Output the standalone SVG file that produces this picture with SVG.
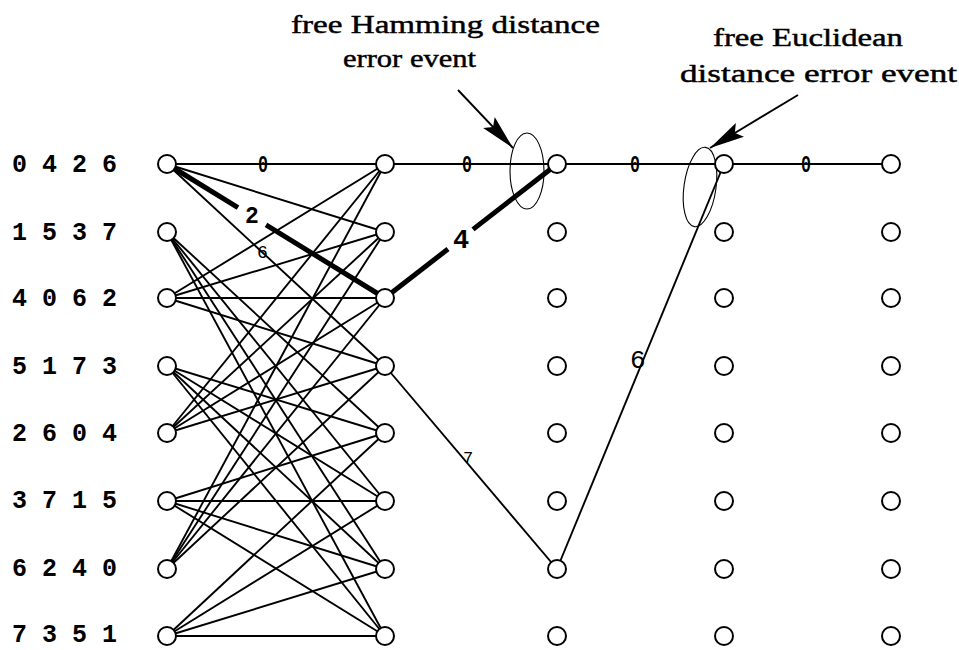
<svg xmlns="http://www.w3.org/2000/svg" width="959" height="650" viewBox="0 0 959 650">
<defs>
<style>
.n{fill:#fff;stroke:#000;stroke-width:2}
.e{stroke:#000;stroke-width:1.9;fill:none}
.t{stroke:#000;stroke-width:5;fill:none;stroke-linecap:butt}
.el{stroke:#000;stroke-width:1.1;fill:none}
.lab{font-family:"Liberation Mono",monospace;font-weight:bold;font-size:25px;fill:#000}
.ed{font-family:"Liberation Mono",monospace;fill:#000}
.z{font-family:"Liberation Mono",monospace;font-size:24px;font-weight:bold;fill:#000}
.cap{font-family:"Liberation Serif","Times New Roman",serif;font-size:26px;fill:#000;stroke:#000;stroke-width:0.45}
</style>
<marker id="ah" markerUnits="userSpaceOnUse" markerWidth="36" markerHeight="16" refX="35" refY="8" orient="auto">
<path d="M0,0 L35,8 L0,16 L6,8 z" fill="#000"/>
</marker>
</defs>
<rect width="959" height="650" fill="#fff"/>

<g id="state-labels">
<text class="lab" x="12" y="172">0 4 2 6</text>
<text class="lab" x="12" y="240">1 5 3 7</text>
<text class="lab" x="12" y="306">4 0 6 2</text>
<text class="lab" x="12" y="374">5 1 7 3</text>
<text class="lab" x="12" y="441">2 6 0 4</text>
<text class="lab" x="12" y="508">3 7 1 5</text>
<text class="lab" x="12" y="576">6 2 4 0</text>
<text class="lab" x="12" y="642">7 3 5 1</text>
</g>

<g id="connectors">
<line class="e" x1="167" y1="164" x2="891" y2="164"/>
<line class="e" x1="167" y1="164" x2="385" y2="232"/>
<line class="e" x1="167" y1="164" x2="385" y2="366"/>
<line class="e" x1="167" y1="298" x2="385" y2="164"/>
<line class="e" x1="167" y1="298" x2="385" y2="232"/>
<line class="e" x1="167" y1="298" x2="385" y2="298"/>
<line class="e" x1="167" y1="298" x2="385" y2="366"/>
<line class="e" x1="167" y1="433" x2="385" y2="164"/>
<line class="e" x1="167" y1="433" x2="385" y2="232"/>
<line class="e" x1="167" y1="433" x2="385" y2="298"/>
<line class="e" x1="167" y1="433" x2="385" y2="366"/>
<line class="e" x1="167" y1="569" x2="385" y2="164"/>
<line class="e" x1="167" y1="569" x2="385" y2="232"/>
<line class="e" x1="167" y1="569" x2="385" y2="298"/>
<line class="e" x1="167" y1="569" x2="385" y2="366"/>
<line class="e" x1="167" y1="232" x2="385" y2="433"/>
<line class="e" x1="167" y1="232" x2="385" y2="501"/>
<line class="e" x1="167" y1="232" x2="385" y2="569"/>
<line class="e" x1="167" y1="232" x2="385" y2="636"/>
<line class="e" x1="167" y1="366" x2="385" y2="433"/>
<line class="e" x1="167" y1="366" x2="385" y2="501"/>
<line class="e" x1="167" y1="366" x2="385" y2="569"/>
<line class="e" x1="167" y1="366" x2="385" y2="636"/>
<line class="e" x1="167" y1="501" x2="385" y2="433"/>
<line class="e" x1="167" y1="501" x2="385" y2="501"/>
<line class="e" x1="167" y1="501" x2="385" y2="569"/>
<line class="e" x1="167" y1="501" x2="385" y2="636"/>
<line class="e" x1="167" y1="636" x2="385" y2="433"/>
<line class="e" x1="167" y1="636" x2="385" y2="501"/>
<line class="e" x1="167" y1="636" x2="385" y2="569"/>
<line class="e" x1="167" y1="636" x2="385" y2="636"/>
<line class="t" x1="172" y1="167" x2="238" y2="207.6"/>
<line class="t" x1="266" y1="224.9" x2="380" y2="295"/>
<line class="t" x1="390" y1="294" x2="448" y2="249"/>
<line class="t" x1="473" y1="229.4" x2="552" y2="168"/>
<line class="e" x1="385" y1="366" x2="557" y2="569"/>
<line class="e" x1="557" y1="569" x2="724" y2="164"/>
<ellipse class="el" cx="527" cy="171" rx="17" ry="38"/>
<ellipse class="el" cx="700" cy="187" rx="16" ry="40" transform="rotate(8 700 187)"/>
<line x1="458" y1="90" x2="513" y2="148" stroke="#000" stroke-width="1.9" marker-end="url(#ah)"/>
<line x1="798" y1="95" x2="710" y2="148" stroke="#000" stroke-width="1.9" marker-end="url(#ah)"/>
</g>

<g id="edge-labels">
<text class="z" x="258" y="172" textLength="10" lengthAdjust="spacingAndGlyphs">0</text>
<text class="z" x="462" y="172" textLength="10" lengthAdjust="spacingAndGlyphs">0</text>
<text class="z" x="630" y="172" textLength="10" lengthAdjust="spacingAndGlyphs">0</text>
<text class="z" x="801" y="172" textLength="10" lengthAdjust="spacingAndGlyphs">0</text>
<text class="ed" x="245" y="223" font-size="23" font-weight="bold">2</text>
<text class="ed" x="257" y="258" font-size="18">6</text>
<text class="ed" x="453" y="248" font-size="27" font-weight="bold">4</text>
<text class="ed" x="463" y="463" font-size="17">7</text>
<text class="ed" x="630" y="368" font-size="26">6</text>
</g>

<g id="captions">
<text class="cap" x="291" y="33" textLength="309" lengthAdjust="spacingAndGlyphs">free Hamming  distance</text>
<text class="cap" x="343" y="67" textLength="133" lengthAdjust="spacingAndGlyphs">error event</text>
<text class="cap" x="713" y="46" textLength="190" lengthAdjust="spacingAndGlyphs">free Euclidean</text>
<text class="cap" x="680" y="82" textLength="277" lengthAdjust="spacingAndGlyphs">distance error event</text>
</g>

<g id="nodes">
<g id="n1-0"><circle class="n" cx="167" cy="164" r="9"/></g>
<g id="n1-1"><circle class="n" cx="167" cy="232" r="9"/></g>
<g id="n1-2"><circle class="n" cx="167" cy="298" r="9"/></g>
<g id="n1-3"><circle class="n" cx="167" cy="366" r="9"/></g>
<g id="n1-4"><circle class="n" cx="167" cy="433" r="9"/></g>
<g id="n1-5"><circle class="n" cx="167" cy="501" r="9"/></g>
<g id="n1-6"><circle class="n" cx="167" cy="569" r="9"/></g>
<g id="n1-7"><circle class="n" cx="167" cy="636" r="9"/></g>
<g id="n2-0"><circle class="n" cx="385" cy="164" r="9"/></g>
<g id="n2-1"><circle class="n" cx="385" cy="232" r="9"/></g>
<g id="n2-2"><circle class="n" cx="385" cy="298" r="9"/></g>
<g id="n2-3"><circle class="n" cx="385" cy="366" r="9"/></g>
<g id="n2-4"><circle class="n" cx="385" cy="433" r="9"/></g>
<g id="n2-5"><circle class="n" cx="385" cy="501" r="9"/></g>
<g id="n2-6"><circle class="n" cx="385" cy="569" r="9"/></g>
<g id="n2-7"><circle class="n" cx="385" cy="636" r="9"/></g>
<g id="n3-0"><circle class="n" cx="557" cy="164" r="9"/></g>
<g id="n3-1"><circle class="n" cx="557" cy="232" r="9"/></g>
<g id="n3-2"><circle class="n" cx="557" cy="298" r="9"/></g>
<g id="n3-3"><circle class="n" cx="557" cy="366" r="9"/></g>
<g id="n3-4"><circle class="n" cx="557" cy="433" r="9"/></g>
<g id="n3-5"><circle class="n" cx="557" cy="501" r="9"/></g>
<g id="n3-6"><circle class="n" cx="557" cy="569" r="9"/></g>
<g id="n3-7"><circle class="n" cx="557" cy="636" r="9"/></g>
<g id="n4-0"><circle class="n" cx="724" cy="164" r="9"/></g>
<g id="n4-1"><circle class="n" cx="724" cy="232" r="9"/></g>
<g id="n4-2"><circle class="n" cx="724" cy="298" r="9"/></g>
<g id="n4-3"><circle class="n" cx="724" cy="366" r="9"/></g>
<g id="n4-4"><circle class="n" cx="724" cy="433" r="9"/></g>
<g id="n4-5"><circle class="n" cx="724" cy="501" r="9"/></g>
<g id="n4-6"><circle class="n" cx="724" cy="569" r="9"/></g>
<g id="n4-7"><circle class="n" cx="724" cy="636" r="9"/></g>
<g id="n5-0"><circle class="n" cx="891" cy="164" r="9"/></g>
<g id="n5-1"><circle class="n" cx="891" cy="232" r="9"/></g>
<g id="n5-2"><circle class="n" cx="891" cy="298" r="9"/></g>
<g id="n5-3"><circle class="n" cx="891" cy="366" r="9"/></g>
<g id="n5-4"><circle class="n" cx="891" cy="433" r="9"/></g>
<g id="n5-5"><circle class="n" cx="891" cy="501" r="9"/></g>
<g id="n5-6"><circle class="n" cx="891" cy="569" r="9"/></g>
<g id="n5-7"><circle class="n" cx="891" cy="636" r="9"/></g>
</g>
</svg>
